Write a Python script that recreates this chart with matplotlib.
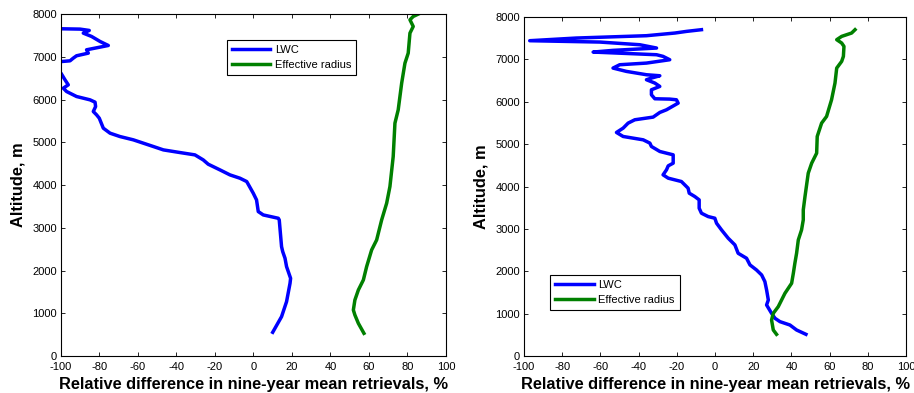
import matplotlib
matplotlib.use('Agg')
from matplotlib import pyplot as plt

plt.rcParams['font.family'] = ['Liberation Sans', 'DejaVu Sans']
plt.rcParams['axes.unicode_minus'] = False

# left panel: LWC profile (values below -100 run off the axis)
lwc_left_x = [10.0, 14.6, 17.2, 19.0, 19.3, 17.2, 16.4, 15.2, 14.6, 13.4, 12.9, 5.1, 2.5,
              1.6, -0.1, -3.5, -7.0, -12.2, -17.4, -23.5, -26.1, -30.4, -38.2, -46.8,
              -52.0, -62.4, -69.4, -74.5, -78.0, -80.1, -81.5, -83.2, -82.0, -82.3,
              -84.9, -91.9, -97.1, -98.8, -96.2, -97.9, -100.0, -106.0, -106.0, -99.6,
              -95.3, -93.6, -91.9, -85.8, -86.7, -75.4, -79.7, -84.1, -88.4, -85.3,
              -90.1, -100.0, -110.0]
lwc_left_y = [555, 921, 1272, 1701, 1818, 2092, 2287, 2443, 2560, 3184, 3223, 3301, 3380,
              3653, 3809, 4082, 4160, 4238, 4355, 4488, 4589, 4706, 4761, 4823,
              4902, 5058, 5136, 5214, 5331, 5565, 5643, 5721, 5838, 5940,
              5994, 6072, 6189, 6267, 6345, 6462, 6618, 6700, 6840, 6891,
              6907, 6970, 7025, 7087, 7165, 7266, 7360, 7477, 7555, 7618,
              7649, 7657, 7660]
reff_left_x = [57.4, 54.5, 52.7, 51.9, 52.7, 54.5, 57.1, 58.8, 61.4, 64.0, 66.6, 69.2,
               70.9, 72.6, 73.5, 75.2, 77.0, 78.7, 80.4, 81.3, 83.0, 81.3, 83.0, 85.6]
reff_left_y = [531, 765, 960, 1077, 1311, 1545, 1780, 2092, 2482, 2716, 3184, 3575,
               3965, 4667, 5448, 5760, 6384, 6852, 7087, 7555, 7711, 7867, 7945, 8000]

# right panel
lwc_right_x = [47.6, 42.7, 39.2, 34.0, 31.4, 29.6, 27.0, 27.9, 27.0, 26.1, 24.4, 21.7,
               18.3, 16.5, 12.1, 10.4, 6.9, 3.4, 0.8, -0.1, -3.6, -7.1, -8.3, -8.3,
               -10.6, -13.5, -14.1, -17.6, -24.5, -27.2, -25.4, -24.5, -21.9, -21.9,
               -25.4, -28.9, -33.3, -34.1, -37.6, -48.1, -51.6, -48.1, -45.5, -42.0,
               -32.4, -28.9, -25.4, -19.3, -20.2, -23.7, -31.5, -33.3, -33.3, -28.9,
               -31.5, -35.9, -33.3, -28.9, -35.9, -46.4, -53.4, -49.9, -35.9, -23.7,
               -27.2, -30.6, -63.8, -53.4, -30.6, -39.4, -60.3, -97.0, -72.6, -35.9,
               -21.0, -14.9, -7.1]
lwc_right_y = [512, 614, 732, 811, 890, 1008, 1205, 1323, 1559, 1756, 1913, 2031,
               2150, 2307, 2425, 2622, 2780, 2976, 3134, 3252, 3291, 3370, 3488, 3685,
               3764, 3843, 3961, 4118, 4197, 4276, 4394, 4488, 4551, 4748,
               4787, 4827, 4945, 5024, 5102, 5181, 5276, 5378, 5496, 5575,
               5638, 5748, 5811, 5968, 6047, 6063, 6071, 6165, 6283, 6362,
               6441, 6520, 6559, 6614, 6638, 6717, 6795, 6874, 6913, 6992,
               7071, 7110, 7173, 7213, 7268, 7346, 7409, 7441, 7504, 7559,
               7622, 7661, 7701]
reff_right_x = [32.2, 30.5, 29.6, 30.5, 33.1, 36.6, 40.1, 41.0, 41.8, 42.7, 43.6, 45.3,
                46.2, 46.2, 47.1, 48.8, 50.6, 53.2, 53.5, 55.8, 58.4, 61.0, 62.8, 63.7,
                66.3, 67.2, 67.5, 66.3, 63.7, 66.3, 71.5, 73.3]
reff_right_y = [512, 614, 850, 1008, 1165, 1480, 1717, 1953, 2189, 2425, 2740, 2976,
                3213, 3449, 3764, 4315, 4551, 4787, 5181, 5496, 5654, 6047, 6441, 6795,
                6953, 7071, 7307, 7386, 7465, 7543, 7622, 7701]

x_label = 'Relative difference in nine-year mean retrievals, %'

fig = plt.figure(figsize=(9.14, 3.93), dpi=100)
ax_left = fig.add_axes([0.0667, 0.0941, 0.4212, 0.870])
ax_right = fig.add_axes([0.5733, 0.0941, 0.418, 0.8626])

panels = [
    (ax_left, lwc_left_x, lwc_left_y, reff_left_x, reff_left_y,
     dict(loc='upper left', bbox_to_anchor=(0.43, 0.925))),
    (ax_right, lwc_right_x, lwc_right_y, reff_right_x, reff_right_y,
     dict(loc='lower left', bbox_to_anchor=(0.068, 0.137))),
]

for ax, lx, ly, rx, ry, leg_pos in panels:
    ax.plot(lx, ly, color=(0, 0, 1), lw=2.5, label='LWC')
    ax.plot(rx, ry, color=(0, 0.5, 0), lw=2.5, label='Effective radius')
    ax.set_xlim(-100, 100)
    ax.set_ylim(0, 8000)
    ax.set_xticks(range(-100, 101, 20))
    ax.set_yticks(range(0, 8001, 1000))
    ax.tick_params(direction='in', labelsize=8, length=3, width=0.6,
                   top=True, right=True)
    ax.tick_params(axis='x', pad=4)
    ax.tick_params(axis='y', pad=3)
    for spine in ax.spines.values():
        spine.set_linewidth(0.8)
    ax.set_xlabel(x_label, fontsize=11.8, fontweight='bold', labelpad=4)
    ax.set_ylabel('Altitude, m', fontsize=11.8, fontweight='bold', labelpad=5)
    leg = ax.legend(fontsize=8, fancybox=False, framealpha=1, edgecolor='black',
                    handlelength=3.5, borderpad=0.45, labelspacing=0.45,
                    handletextpad=0.4, borderaxespad=0, **leg_pos)
    leg.get_frame().set_linewidth(0.8)

fig.savefig('out.png', dpi=100)
